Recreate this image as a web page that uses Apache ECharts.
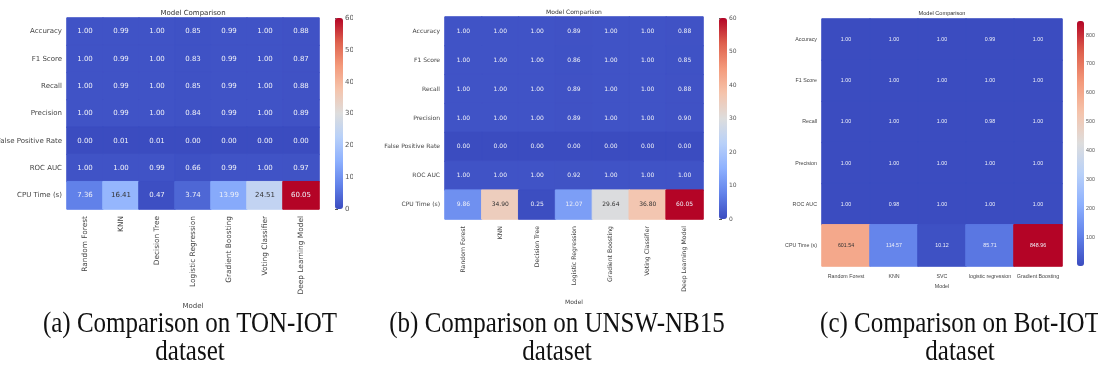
<!DOCTYPE html>
<html><head><meta charset="utf-8">
<script src="https://cdn.jsdelivr.net/npm/echarts@6/dist/echarts.min.js"></script>
<style>
body{margin:0;width:1098px;height:374px;background:#fff;position:relative;overflow:hidden}
.p{position:absolute;top:0;height:312px;overflow:hidden}
.cap{position:absolute;width:400px;font-family:'Liberation Serif','Times New Roman',serif;font-size:25px;color:#111;text-align:center;line-height:23.3px;white-space:nowrap;transform:scaleY(1.2);transform-origin:50% 0}
</style></head><body>
<div id="pa" class="p" style="left:0;width:353px"></div>
<div id="pb" class="p" style="left:370px;width:372px"></div>
<div id="pc" class="p" style="left:740px;width:358px"></div>
<div class="cap" style="left:-10px;top:308px">(a) Comparison on TON-IOT<br>dataset</div>
<div class="cap" style="left:357px;top:308px">(b) Comparison on UNSW-NB15<br>dataset</div>
<div class="cap" style="left:760px;top:308px">(c) Comparison on Bot-IOT<br>dataset</div>
<script>
// ---------- data ----------
const titleText = 'Model Comparison';
const xName = 'Model';

const tonModels = ['Random Forest','KNN','Decision Tree','Logistic Regression','Gradient Boosting','Voting Classifier','Deep Learning Model'];
const tonMetrics = ['Accuracy','F1 Score','Recall','Precision','False Positive Rate','ROC AUC','CPU Time (s)'];
const tonAccuracy  = [1.00,0.99,1.00,0.85,0.99,1.00,0.88];
const tonF1        = [1.00,0.99,1.00,0.83,0.99,1.00,0.87];
const tonRecall    = [1.00,0.99,1.00,0.85,0.99,1.00,0.88];
const tonPrecision = [1.00,0.99,1.00,0.84,0.99,1.00,0.89];
const tonFPR       = [0.00,0.01,0.01,0.00,0.00,0.00,0.00];
const tonROC       = [1.00,1.00,0.99,0.66,0.99,1.00,0.97];
const tonCPU       = [7.36,16.41,0.47,3.74,13.99,24.51,60.05];
const tonTicks     = [0,10,20,30,40,50,60];

const unswModels = ['Random Forest','KNN','Decision Tree','Logistic Regression','Gradient Boosting','Voting Classifier','Deep Learning Model'];
const unswMetrics = ['Accuracy','F1 Score','Recall','Precision','False Positive Rate','ROC AUC','CPU Time (s)'];
const unswAccuracy  = [1.00,1.00,1.00,0.89,1.00,1.00,0.88];
const unswF1        = [1.00,1.00,1.00,0.86,1.00,1.00,0.85];
const unswRecall    = [1.00,1.00,1.00,0.89,1.00,1.00,0.88];
const unswPrecision = [1.00,1.00,1.00,0.89,1.00,1.00,0.90];
const unswFPR       = [0.00,0.00,0.00,0.00,0.00,0.00,0.00];
const unswROC       = [1.00,1.00,1.00,0.92,1.00,1.00,1.00];
const unswCPU       = [9.86,34.90,0.25,12.07,29.64,36.80,60.05];
const unswTicks     = [0,10,20,30,40,50,60];

const botModels = ['Random Forest','KNN','SVC','logistic regression','Gradient Boosting'];
const botMetrics = ['Accuracy','F1 Score','Recall','Precision','ROC AUC','CPU Time (s)'];
const botAccuracy  = [1.00,1.00,1.00,0.99,1.00];
const botF1        = [1.00,1.00,1.00,1.00,1.00];
const botRecall    = [1.00,1.00,1.00,0.98,1.00];
const botPrecision = [1.00,1.00,1.00,1.00,1.00];
const botROC       = [1.00,0.98,1.00,1.00,1.00];
const botCPU       = [601.54,114.57,10.12,85.71,848.96];
const botTicks     = [100,200,300,400,500,600,700,800];

// coolwarm colormap
const coolwarm = ['#3b4cc0','#6282ea','#8db0fe','#b8d0f9','#dddddd','#f5c4ac','#f49a7b','#de604d','#b40426'];

function cmap(t) {
  t = Math.max(0, Math.min(1, t));
  const n = coolwarm.length - 1;
  const i = Math.min(n - 1, Math.floor(t * n));
  const f = t * n - i;
  const a = coolwarm[i], b = coolwarm[i + 1];
  const ch = k => {
    const x = parseInt(a.substr(1 + 2*k, 2), 16), y = parseInt(b.substr(1 + 2*k, 2), 16);
    return Math.round(x + (y - x) * f);
  };
  return 'rgb(' + ch(0) + ',' + ch(1) + ',' + ch(2) + ')';
}

function buildPanel(el, models, metrics, rows, ticks, L) {
  const chart = echarts.init(document.getElementById(el), null, {renderer:'canvas'});
  let all = [].concat(...rows);
  const vmin = Math.min(...all), vmax = Math.max(...all);
  const data = [];
  rows.forEach((row, yi) => row.forEach((v, xi) => {
    const t = (v - vmin) / (vmax - vmin);
    const c = cmap(t);
    data.push({value:[xi, yi, v],
      itemStyle:{color:c, borderColor:c, borderWidth:1},
      label:{color: (t > 0.25 && t < 0.8) ? '#333' : '#eef0f8'}});
  }));
  const font = L.font;
  chart.setOption({
    animation:false,
    backgroundColor:'#fff',
    graphic:[{type:'text', x:L.gl + L.gw/2, y:L.ty,
      style:{text:titleText, align:'center', verticalAlign:'middle', fontSize:L.tfs, fontFamily:font, fill:'#333'}}],
    grid:[
      {left:L.gl, top:L.gt, width:L.gw, height:L.gh, outerBoundsMode:'none', containLabel:false},
      {left:L.cl, top:L.ct, width:L.cw, height:L.ch, outerBoundsMode:'none', containLabel:false}
    ],
    xAxis:[
      {type:'category', gridIndex:0, data:models, axisLine:{show:false}, axisTick:{show:false},
       splitLine:{show:false}, splitArea:{show:false},
       axisLabel:{rotate:L.rot, fontSize:L.xfs, fontFamily:font, color:'#444', margin:L.xm, interval:0},
       name:xName, nameLocation:'middle', nameGap:L.ng, nameTextStyle:{fontSize:L.fs, fontFamily:font, color:'#444'}},
      {type:'value', gridIndex:1, show:false, min:0, max:1, splitLine:{show:false}}
    ],
    yAxis:[
      {type:'category', gridIndex:0, data:metrics, inverse:true, axisLine:{show:false}, axisTick:{show:false},
       splitLine:{show:false}, splitArea:{show:false},
       axisLabel:{fontSize:L.fs, fontFamily:font, color:'#444', margin:L.ym}},
      {type:'value', gridIndex:1, position:'right', min:vmin, max:vmax, splitLine:{show:false},
       axisLine:{show:false},
       axisTick:{show:true, length:3, lineStyle:{color:'#555'}, customValues:ticks},
       axisLabel:{fontSize:L.fs, fontFamily:font, color:'#555', margin:2, customValues:ticks}}
    ],
    visualMap:{type:'continuous', min:vmin, max:vmax, calculable:false, show:true, orient:'vertical',
      left:L.cl, top:L.ct, itemWidth:L.cw, itemHeight:L.ch, padding:0, text:null, seriesIndex:[],
      hoverLink:false, inRange:{color:coolwarm}},
    series:[{type:'heatmap', xAxisIndex:0, yAxisIndex:0, data:data,
      label:{show:true, fontSize:L.fs, fontFamily:font, formatter:p => p.value[2].toFixed(2)},
      emphasis:{disabled:true}}]
  });
}

buildPanel('pa', tonModels, tonMetrics,
  [tonAccuracy, tonF1, tonRecall, tonPrecision, tonFPR, tonROC, tonCPU], tonTicks,
  {gl:67, gt:18, gw:252, gh:191, cl:335, ct:18, cw:8, ch:191, ty:13, fs:7, xfs:7.4, tfs:7, font:'DejaVu Sans', rot:90, xm:7, ym:5, ng:87});

buildPanel('pb', unswModels, unswMetrics,
  [unswAccuracy, unswF1, unswRecall, unswPrecision, unswFPR, unswROC, unswCPU], unswTicks,
  {gl:75, gt:17, gw:258, gh:202, cl:349, ct:18, cw:8, ch:201, ty:12, fs:6, xfs:6.2, tfs:6, font:'DejaVu Sans', rot:90, xm:7, ym:5, ng:80});

buildPanel('pc', botModels, botMetrics,
  [botAccuracy, botF1, botRecall, botPrecision, botROC, botCPU], botTicks,
  {gl:82, gt:19, gw:240, gh:247, cl:337, ct:21, cw:7, ch:245, ty:13, fs:5.3, xfs:5.3, tfs:5.6, font:'Liberation Sans', rot:0, xm:8, ym:5, ng:17});
</script>
</body></html>
